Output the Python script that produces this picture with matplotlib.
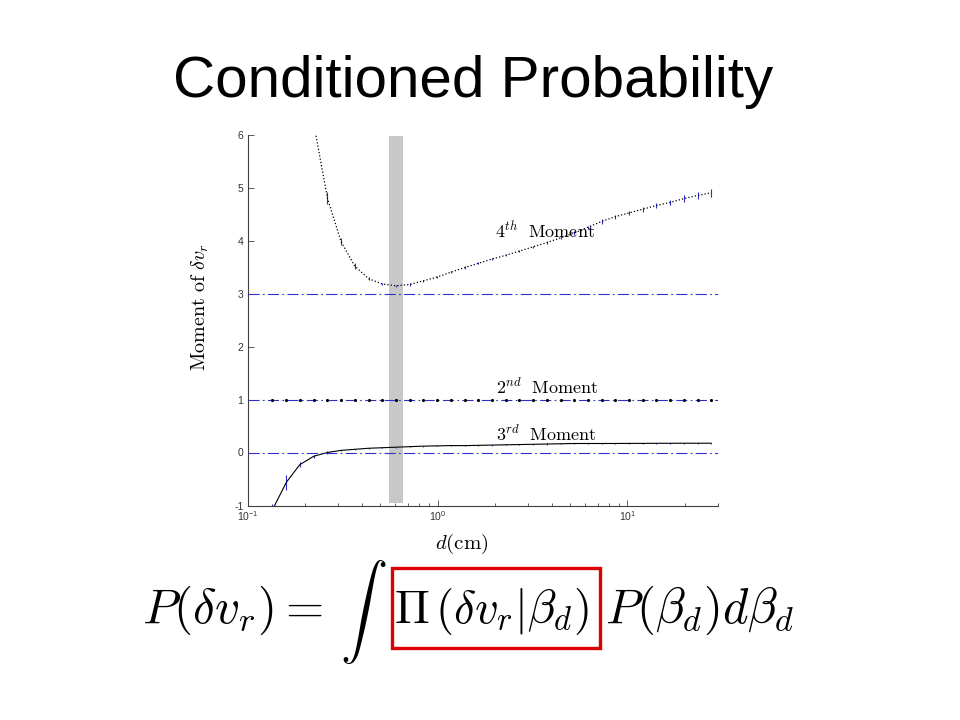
import matplotlib
matplotlib.use('Agg')
import matplotlib.pyplot as plt
from matplotlib.patches import Rectangle
from matplotlib.ticker import LogLocator

plt.rcParams['font.family'] = ['Liberation Sans', 'DejaVu Sans']
plt.rcParams['mathtext.fontset'] = 'cm'
plt.rcParams['axes.unicode_minus'] = False

# separation d (cm), same sampling for every moment
d = [0.135, 0.160, 0.188, 0.223, 0.263, 0.310, 0.366, 0.433, 0.511, 0.604,
     0.713, 0.842, 0.994, 1.17, 1.39, 1.64, 1.93, 2.28, 2.70, 3.18,
     3.76, 4.44, 5.24, 6.19, 7.31, 8.63, 10.2, 12.0, 14.2, 16.8,
     19.8, 23.4, 27.6]

# 2nd moment (normalised)
m2 = [1.0, 1.0, 1.0, 1.0, 1.0, 1.0, 1.0, 1.0, 1.0, 1.0,
      1.0, 1.0, 1.0, 1.0, 1.0, 1.0, 1.0, 1.0, 1.0, 1.0,
      1.0, 1.0, 1.0, 1.0, 1.0, 1.0, 1.0, 1.0, 1.0, 1.0,
      1.0, 1.0, 1.0]

# 3rd moment and its error
m3 = [-1.08, -0.56, -0.23, -0.07, 0.0, 0.04, 0.06, 0.08, 0.09, 0.10,
      0.11, 0.12, 0.125, 0.13, 0.13, 0.135, 0.14, 0.145, 0.15, 0.155,
      0.16, 0.165, 0.17, 0.17, 0.17, 0.17, 0.172, 0.172, 0.174, 0.174,
      0.175, 0.175, 0.175]
e3 = [0.10, 0.14, 0.05, 0.03, 0.02, 0.01, 0.01, 0.01, 0.01, 0.01,
      0.01, 0.01, 0.01, 0.01, 0.01, 0.01, 0.01, 0.01, 0.01, 0.01,
      0.01, 0.01, 0.01, 0.01, 0.01, 0.01, 0.01, 0.01, 0.01, 0.01,
      0.01, 0.01, 0.01]

# 4th moment and its error
m4 = [12.0, 9.0, 7.5, 6.2, 4.8, 3.98, 3.52, 3.28, 3.18, 3.146,
      3.17, 3.24, 3.31, 3.40, 3.49, 3.57, 3.65, 3.72, 3.80, 3.88,
      3.96, 4.05, 4.14, 4.25, 4.36, 4.45, 4.52, 4.59, 4.66, 4.72,
      4.79, 4.85, 4.90]
e4 = [0.3, 0.25, 0.2, 0.15, 0.12, 0.07, 0.05, 0.03, 0.02, 0.02,
      0.02, 0.02, 0.02, 0.02, 0.02, 0.02, 0.02, 0.02, 0.02, 0.02,
      0.03, 0.03, 0.03, 0.03, 0.04, 0.04, 0.04, 0.05, 0.05, 0.05,
      0.06, 0.06, 0.07]

ref_levels = [3, 1, 0]
band = (0.555, 0.655)

blue = '#2f2fd0'
axis_gray = '#404040'

fig = plt.figure(figsize=(9.6, 7.2), dpi=100)
# 53 px per unit on y so the reference levels land on pixel rows
ax = fig.add_axes([0.258, 214.5 / 720, 0.490, 371 / 720])

# grey band
ax.axvspan(band[0], band[1], ymin=0.006, ymax=0.996, color='#c8c8c8', lw=0, zorder=0)

# moments
ax.errorbar(d, m3, yerr=e3, fmt='none', ecolor=blue, elinewidth=0.8, zorder=2)
ax.plot(d, m3, '-', color='k', lw=0.8, zorder=3)
ax.errorbar(d, m4, yerr=e4, fmt='none', ecolor=blue, elinewidth=0.8, zorder=2)
ax.plot(d, m4, ':', color='k', lw=0.9, zorder=3)

# gaussian reference levels
for lev in ref_levels:
    ax.axhline(lev, color=blue, lw=0.8, linestyle=(0, (10, 3, 1.5, 3)), zorder=4)

ax.plot(d, m2, '.', color='k', ms=2.5, zorder=5)

lab_kw = dict(fontsize=13, ha='left', va='baseline', color='k')
ax.text(2.0, 4.03, r'$4^{th}\ \ \mathrm{Moment}$', **lab_kw)
ax.text(2.03, 1.11, r'$2^{nd}\ \ \mathrm{Moment}$', **lab_kw)
ax.text(2.03, 0.22, r'$3^{rd}\ \ \mathrm{Moment}$', **lab_kw)

ax.set_xscale('log')
ax.set_xlim(0.1, 30)
ax.set_ylim(-1, 6)
ax.set_yticks(range(-1, 7))
ax.xaxis.set_minor_locator(LogLocator(base=10, subs=range(2, 10)))

for s in ['top', 'right']:
    ax.spines[s].set_visible(False)
for s in ['left', 'bottom']:
    ax.spines[s].set_color(axis_gray)
    ax.spines[s].set_linewidth(0.8)
ax.tick_params(which='both', direction='in', colors=axis_gray, labelsize=7.5,
               labelcolor='#333333', width=0.6, pad=3)
ax.tick_params(which='major', length=4)
ax.tick_params(which='minor', length=2.5)

ax.set_xlabel(r'$d\mathrm{(cm)}$', fontsize=15)
ax.xaxis.set_label_coords(0.455, -0.07)
ax.set_ylabel(r'$\mathrm{Moment\ of\ }\delta v_r$', fontsize=14.5)
ax.yaxis.set_label_coords(-0.078, 0.535)

# slide title
fig.text(0.4926, 1 - 96.7 / 720, 'Conditioned Probability', fontsize=42,
         ha='center', va='baseline', family=['Liberation Sans', 'DejaVu Sans'])

# equation under the plot
base = 1 - 623 / 720
fig.text(141.7 / 960, base, r'$P(\delta v_r) =$', fontsize=35.5, ha='left', va='baseline')
fig.text(340 / 960, 1 - 612 / 720, r'$\int$', fontsize=34, ha='left', va='center')
fig.text(394 / 960, base, r'$\Pi\,(\delta v_r|\beta_d)$', fontsize=33.5, ha='left', va='baseline')
fig.text(605 / 960, base, r'$P(\beta_d)d\beta_d$', fontsize=35, ha='left', va='baseline')
fig.patches.append(Rectangle((391.7 / 960, 1 - 648.3 / 720), 208.3 / 960, 80.6 / 720,
                             transform=fig.transFigure, fill=False,
                             edgecolor='#dd0000', lw=2.4))

fig.savefig('out.png', dpi=100)
